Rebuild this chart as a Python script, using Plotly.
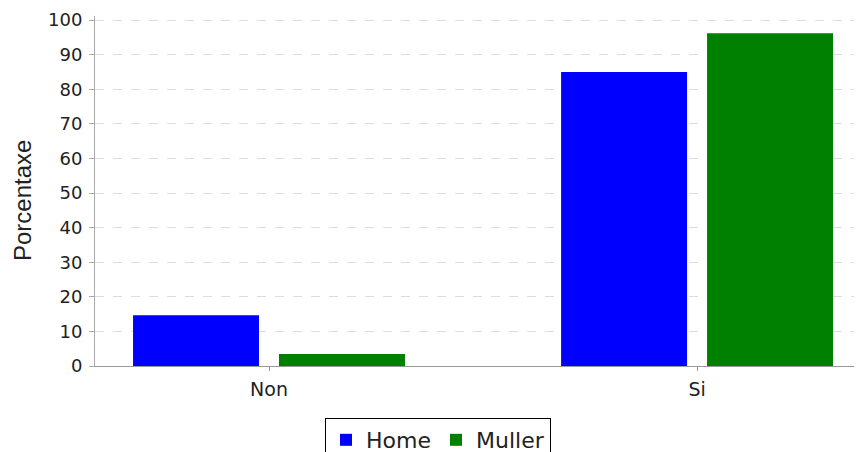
import plotly.graph_objects as go

categories = ["Non", "Si"]
home = [14.7, 85.0]
muller = [3.5, 96.2]
y_ticks = [0, 10, 20, 30, 40, 50, 60, 70, 80, 90, 100]

fig = go.Figure()
fig.add_trace(go.Bar(name="Home", x=categories, y=home, marker=dict(color="#0000ff", line=dict(width=0))))
fig.add_trace(go.Bar(name="Muller", x=categories, y=muller, marker=dict(color="#008000", line=dict(width=0))))

fig.add_annotation(
    text="Porcentaxe", textangle=-90, showarrow=False,
    xref="paper", yref="paper", x=-0.0953, y=0.4714,
    xanchor="center", yanchor="middle",
    font=dict(family="Liberation Sans", size=24, color="#222222"),
)

fig.update_layout(
    width=854, height=444,
    margin=dict(l=87, r=1, t=8, b=86, autoexpand=False),
    paper_bgcolor="white", plot_bgcolor="white",
    barmode="group", bargap=0.318, bargroupgap=0.137,
    font=dict(family="DejaVu Sans", color="#333333"),
    showlegend=True,
    legend=dict(
        orientation="h",
        x=0.4478, xanchor="center", y=-0.1486, yanchor="top",
        xref="paper", yref="paper",
        bordercolor="#000000", borderwidth=1, bgcolor="white",
        font=dict(family="DejaVu Sans", size=22, color="#222222"),
        itemwidth=30, tracegroupgap=0,
    ),
    xaxis=dict(
        range=[-0.4065, 1.383], showgrid=False, automargin=False,
        showline=True, linecolor="#999999", linewidth=1,
        ticks="outside", ticklen=4, tickcolor="#999999",
        ticklabelstandoff=2,
        tickfont=dict(family="DejaVu Sans", size=19, color="#222222"),
    ),
    yaxis=dict(
        range=[0, 101.2], tickvals=y_ticks, automargin=False,
        showgrid=True, gridcolor="#dddddd", griddash="dash", gridwidth=1,
        showline=True, linecolor="#aaaaaa", linewidth=1, mirror=True,
        ticks="outside", ticklen=5, tickcolor="#aaaaaa",
        ticklabelstandoff=3,
        tickfont=dict(family="DejaVu Sans", size=18, color="#222222"),
        zeroline=False,
    ),
)

fig.write_html("out.html")
